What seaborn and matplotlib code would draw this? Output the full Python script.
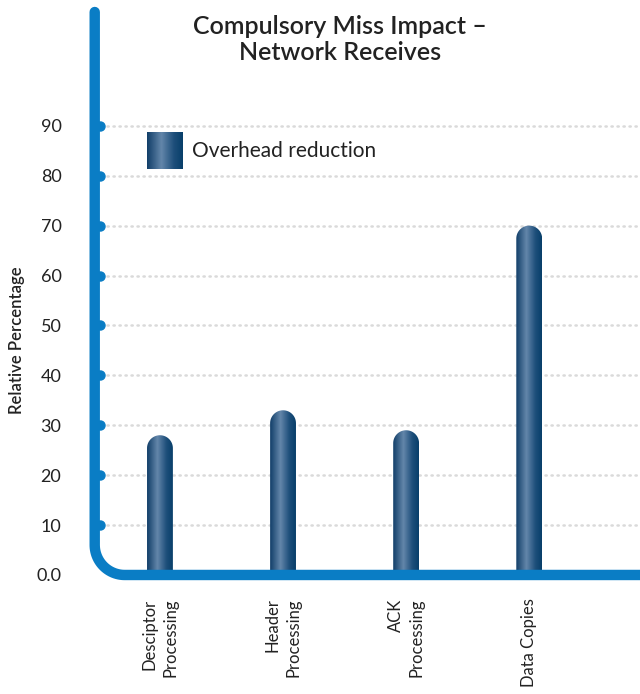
import numpy as np
import matplotlib
matplotlib.use("Agg")
import matplotlib.pyplot as plt
import seaborn as sns
from matplotlib.path import Path
from matplotlib.patches import PathPatch
from matplotlib.colors import LinearSegmentedColormap

# datos
categorias = ["Desciptor\nProcessing", "Header\nProcessing", "ACK\nProcessing", "Data Copies"]
valores = [28, 33, 29, 70]
ticks_y = [0, 10, 20, 30, 40, 50, 60, 70, 80, 90]
etiquetas_y = ["0.0", "10", "20", "30", "40", "50", "60", "70", "80", "90"]
serie = "Overhead reduction"

sns.set_style("white")
plt.rcParams['font.family'] = ['Lato', 'DejaVu Sans']

azul = "#0a7dc5"
gradiente = LinearSegmentedColormap.from_list(
    "barra", [(0, "#123f69"), (0.4, "#6386aa"), (0.75, "#1e4f7b"), (1, "#083f6a")])

fig = plt.figure(figsize=(6.4, 6.94), dpi=100)
ax = fig.add_axes([0.148, 0.1715, 0.852, 0.8112])

ancho = 0.21
sns.barplot(x=categorias, y=valores, width=ancho, color="#1b4d78", ax=ax)
ax.set_xlim(-0.53, 3.9)
ax.set_ylim(0, 112.8)

# barras con punta redondeada y degradado
fig.canvas.draw()
bb = ax.get_window_extent()
px_x = bb.width / (3.9 + 0.53)
px_y = bb.height / 112.8
grad = np.linspace(0, 1, 64).reshape(1, -1)
for p in list(ax.patches):
    x0, w, h = p.get_x(), p.get_width(), p.get_height()
    p.set_visible(False)
    ry = (w / 2) * px_x / px_y
    ang = np.linspace(0, np.pi, 40)
    arco = [(x0 + w / 2 + (w / 2) * np.cos(a), h - ry + ry * np.sin(a)) for a in ang]
    verts = [(x0, 0), (x0 + w, 0)] + arco + [(x0, 0)]
    codes = [Path.MOVETO] + [Path.LINETO] * (len(verts) - 2) + [Path.CLOSEPOLY]
    clip = PathPatch(Path(verts, codes), transform=ax.transData, facecolor="none", edgecolor="none")
    ax.add_patch(clip)
    im = ax.imshow(grad, cmap=gradiente, extent=[x0, x0 + w, 0, h], aspect="auto", zorder=3)
    im.set_clip_path(clip)
ax.set_xlim(-0.53, 3.9)
ax.set_ylim(0, 112.8)

# rejilla punteada
for v in ticks_y[1:]:
    ax.axhline(v, color="#dadada", lw=1.8, ls=(0, (0.5, 1.9)), dash_capstyle="round", zorder=1)

# eje azul con esquina redondeada
for s in ax.spines.values():
    s.set_visible(False)
rx, ryc = 30 / bb.width, 30 / bb.height
t = np.linspace(np.pi, 1.5 * np.pi, 30)
xs = [0, 0] + list(rx + rx * np.cos(t)) + [1.0]
ys = [1, ryc] + list(ryc + ryc * np.sin(t)) + [0]
ax.plot(xs, ys, color=azul, lw=7.5, solid_capstyle="round", transform=ax.transAxes, clip_on=False, zorder=5)
ax.plot([0.009] * (len(ticks_y) - 1), ticks_y[1:], "o", color=azul, ms=6.5,
        transform=ax.get_yaxis_transform(), clip_on=False, zorder=5)

ax.set_yticks(ticks_y)
ax.set_yticklabels(etiquetas_y, fontsize=13, color="#222222")
ax.tick_params(axis="y", length=0, pad=24)
ax.set_xticks(range(len(categorias)))
ax.set_xticklabels(categorias, rotation=90, fontsize=12, color="#222222", va="top", ha="center",
                   ma="right", linespacing=1.35)
ax.tick_params(axis="x", length=0, pad=17)
ax.set_xlabel("")
ax.set_ylabel("")
fig.text(0.027, 1 - 340 / 694, "Relative Percentage", rotation=90, ha="center", va="center",
         fontsize=12, fontweight="semibold", color="#222222")

# leyenda
ax.imshow(grad, cmap=gradiente, extent=[0.0954, 0.1596, 0.721, 0.785], aspect="auto",
          transform=ax.transAxes, zorder=4)
ax.set_xlim(-0.53, 3.9)
ax.set_ylim(0, 112.8)
ax.text(0.178, 0.753, serie, transform=ax.transAxes, ha="left", va="center", fontsize=15, color="#222222")

fig.text(0.531, 0.943, "Compulsory Miss Impact –\nNetwork Receives", ha="center", va="center",
         fontsize=18, fontweight="semibold", color="#222222", linespacing=1.2)

fig.savefig("out.png", dpi=100)
